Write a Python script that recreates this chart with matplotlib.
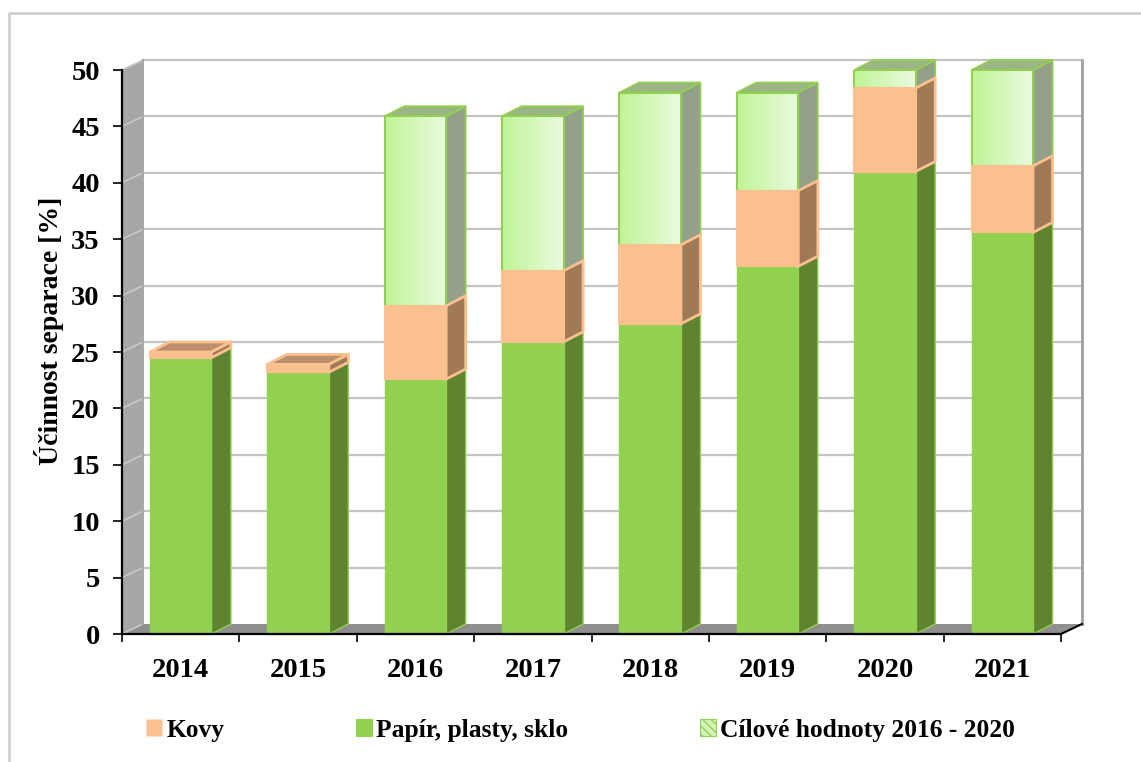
import numpy as np
import matplotlib
matplotlib.use("Agg")
import matplotlib.pyplot as plt
from matplotlib.patches import Polygon, Patch, Rectangle
from matplotlib.lines import Line2D

years = ['2014', '2015', '2016', '2017', '2018', '2019', '2020', '2021']
paper = [24.5, 23.2, 22.6, 25.9, 27.5, 32.6, 41.0, 35.6]
metals = [0.5, 0.7, 6.5, 6.3, 7.0, 6.7, 7.4, 5.9]
target = [np.nan, np.nan, 45.9, 45.9, 48.0, 48.0, 50.0, 50.0]
y_ticks = [0, 5, 10, 15, 20, 25, 30, 35, 40, 45, 50]

W, H = 1141, 762
L, R, T, B = 122, 1061, 70, 634
plt.rcParams['font.family'] = ['Liberation Serif', 'DejaVu Serif']
plt.rcParams['font.weight'] = 'bold'
plt.rcParams['hatch.color'] = '#92d050'

fig = plt.figure(figsize=(W / 100, H / 100), dpi=100)
fig.add_artist(Line2D([9 / W, 9 / W, 1], [0, 1 - 13 / H, 1 - 13 / H], transform=fig.transFigure,
                      color='#cfcfcf', lw=2, zorder=-1))
ax = fig.add_axes([L / W, 1 - B / H, (R - L) / W, (B - T) / H])
ax.set_xlim(-0.5, 7.5)
ax.set_ylim(0, 50)
ax.patch.set_visible(False)

pxx = (R - L) / 8
pxy = (B - T) / 50
wall_dx, wall_dy = 21 / pxx, 10 / pxy
bar_dx, bar_dy = 19.5 / pxx, 10 / pxy
bw = 61.5 / pxx
x0, x1, y0, y1 = -0.5, 7.5, 0, 50


def poly(points, fc, ec='none', lw=0, z=2):
    ax.add_patch(Polygon(points, closed=True, fc=fc, ec=ec, lw=lw, zorder=z,
                         clip_on=False, joinstyle='miter'))


# walls
poly([(x0, y0), (x0 + wall_dx, y0 + wall_dy), (x0 + wall_dx, y1 + wall_dy), (x0, y1)], '#a6a6a6', z=1)
poly([(x0, y0), (x0 + wall_dx, y0 + wall_dy), (x1 + wall_dx, y0 + wall_dy), (x1, y0)], '#8f8f8f', z=1.1)
for v in y_ticks:
    ax.plot([x0, x0 + wall_dx], [v, v + wall_dy], color='#c8c8c8', lw=1.2, zorder=1.2, clip_on=False)
    if v > 0:
        ax.plot([x0 + wall_dx, x1 + wall_dx], [v + wall_dy] * 2, color='#c4c4c4', lw=1.6,
                zorder=1.2, clip_on=False)
ax.plot([x0 + wall_dx] * 2, [y0 + wall_dy, y1 + wall_dy], color='#a8a8a8', lw=1.5, zorder=1.3, clip_on=False)
ax.plot([x1 + wall_dx] * 2, [y0 + wall_dy, y1 + wall_dy], color='#a0a0a0', lw=2, zorder=1.3, clip_on=False)
ax.plot([x1, x1 + wall_dx], [y0, y0 + wall_dy], color='black', lw=1.5, zorder=1.3, clip_on=False)

GREEN, GREEN_SIDE = '#92d050', '#5f8431'
PEACH, PEACH_SIDE, PEACH_TOP = '#fbc08f', '#a07a56', '#bb8f6b'
grad = np.linspace(0, 1, 64)[None, :, None]
c_l, c_r = np.array([0xc0, 0xf4, 0x96]) / 255, np.array([0xea, 0xfb, 0xe0]) / 255
grad_img = c_l + (c_r - c_l) * grad

for i, (g, k, t) in enumerate(zip(paper, metals, target)):
    a, b = i - bw / 2, i + bw / 2
    z = 3 + i
    top_k = g + k
    # paper
    poly([(b, 0), (b + bar_dx, bar_dy), (b + bar_dx, g + bar_dy), (b, g)], GREEN_SIDE, '#92d050', 1.0, z)
    poly([(a, 0), (b, 0), (b, g), (a, g)], GREEN, GREEN, 1.0, z + 0.05)
    # target
    if not np.isnan(t):
        poly([(b, top_k), (b + bar_dx, top_k + bar_dy), (b + bar_dx, t + bar_dy), (b, t)],
             '#93a18b', GREEN, 1.3, z + 0.1)
        poly([(a, t), (b, t), (b + bar_dx, t + bar_dy), (a + bar_dx, t + bar_dy)],
             '#9bb585', GREEN, 1.3, z + 0.1)
        ax.imshow(grad_img, extent=(a, b, top_k, t), aspect='auto', zorder=z + 0.15,
                  origin='lower', interpolation='bilinear')
        ax.add_patch(Rectangle((a, top_k), bw, t - top_k, fc='none', ec=GREEN, lw=1.5, zorder=z + 0.16))
    else:
        poly([(a, top_k), (b, top_k), (b + bar_dx, top_k + bar_dy), (a + bar_dx, top_k + bar_dy)],
             PEACH_TOP, PEACH, 2.0, z + 0.2)
    # metals
    poly([(b, g), (b + bar_dx, g + bar_dy), (b + bar_dx, top_k + bar_dy), (b, top_k)],
         PEACH_SIDE, PEACH, 2.0, z + 0.2)
    poly([(a, g), (b, g), (b, top_k), (a, top_k)], PEACH, PEACH, 1.5, z + 0.25)

ax.set_xlim(-0.5, 7.5)
ax.set_ylim(0, 50)

ax.set_xticks(range(len(years)), years, fontsize=20.5, fontweight='bold')
ax.set_xticks(np.arange(-0.5, 8, 1), minor=True)
ax.tick_params(axis='x', which='major', length=0, pad=17)
ax.tick_params(axis='x', which='minor', length=6, width=1.2, color='black')
ax.set_yticks(y_ticks)
ax.tick_params(axis='y', length=6.5, width=1.2, pad=9.5, labelsize=20.5)
for s in ('top', 'right'):
    ax.spines[s].set_visible(False)
for s in ('left', 'bottom'):
    ax.spines[s].set_linewidth(1.6)
    ax.spines[s].set_zorder(20)
ax.set_ylabel('Účinnost separace [%]', fontsize=20, fontweight='bold', labelpad=5, y=0.537)

handles = [Patch(fc=PEACH, ec='#fde0c8', lw=0.8, label='Kovy'),
           Patch(fc=GREEN, ec=GREEN, lw=0.8, label='Papír, plasty, sklo'),
           Patch(fc='#d4f5bc', ec=GREEN, lw=0.8, hatch='\\\\\\\\', label='Cílové hodnoty 2016 - 2020')]
fig.legend(handles=handles, ncol=3, frameon=False, loc='center left',
           bbox_to_anchor=(146 / W, 1 - 730 / H), fontsize=18.4,
           handlelength=0.62, handleheight=0.62, handletextpad=0.17, columnspacing=5.15,
           borderpad=0, borderaxespad=0)

fig.savefig('out.png', dpi=100, facecolor='white')
